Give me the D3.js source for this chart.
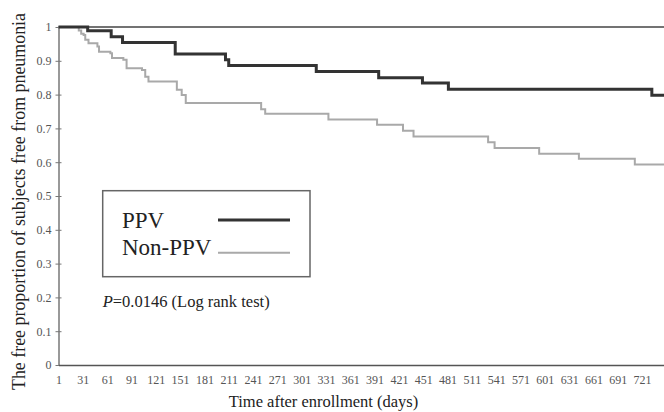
<!DOCTYPE html>
<html lang="en">
<head>
    <meta charset="UTF-8">
    <title>Pneumonia-free proportion</title>
    <script src="https://d3js.org/d3.v7.min.js" charset="utf-8"></script>
    <style>
        body { margin: 0; background: #fff; }
        svg text { font-family: "Liberation Serif", "Times New Roman", serif; }
        .tick text { fill: #555; font-size: 12px; }
    </style>
</head>
<body>
<script>
    // Kaplan-Meier steps (day of drop, proportion after drop)
    let ppvDays = [1, 37, 66, 80, 145, 207, 211, 319, 396, 450, 482, 733];
    let ppvSurv = [1, 0.989, 0.971, 0.954, 0.920, 0.903, 0.886, 0.868, 0.850, 0.834, 0.816, 0.798];
    let nonDays = [1, 26, 29, 32, 34, 38, 49, 51, 65, 67, 81, 85, 104, 108, 112, 147, 153, 158,
        251, 256, 334, 394, 426, 439, 531, 539, 594, 643, 712];
    let nonSurv = [1, 0.99, 0.98, 0.976, 0.962, 0.952, 0.942, 0.927, 0.922, 0.908, 0.903, 0.878,
        0.873, 0.853, 0.839, 0.814, 0.799, 0.775, 0.757, 0.743, 0.726, 0.711, 0.693, 0.676,
        0.659, 0.642, 0.625, 0.610, 0.593];
    let lastDay = 748;
    let xTicks = d3.range(1, 722, 30);
    let yTicks = [0, 0.1, 0.2, 0.3, 0.4, 0.5, 0.6, 0.7, 0.8, 0.9, 1];

    let svg = d3.select('body').append('svg').attr('width', 664).attr('height', 412);

    let x = d3.scaleLinear().domain([1, lastDay]).range([58.5, 664]);
    let y = d3.scaleLinear().domain([0, 1]).range([365, 27]);

    // top reference line at 1.0
    svg.append('line')
        .attr('x1', x(1)).attr('x2', x(lastDay))
        .attr('y1', y(1)).attr('y2', y(1))
        .attr('stroke', '#444').attr('stroke-width', 1.5);

    // y axis
    let yAxis = d3.axisLeft(y).tickValues(yTicks).tickSize(0).tickPadding(7)
        .tickFormat(d => d === 0 || d === 1 ? d3.format('d')(d) : d3.format('.1f')(d));
    let gy = svg.append('g').attr('transform', 'translate(' + x(1) + ',0)').call(yAxis);
    gy.select('.domain').attr('stroke', '#777').attr('stroke-width', 1.5);
    gy.selectAll('.tick').append('line')
        .attr('x1', -3).attr('x2', 3).attr('stroke', '#777');

    // x axis
    let xAxis = d3.axisBottom(x).tickValues(xTicks).tickSize(0).tickPadding(10)
        .tickFormat(d3.format('d'));
    let gx = svg.append('g').attr('transform', 'translate(0,' + y(0) + ')').call(xAxis);
    gx.select('.domain').attr('stroke', '#555').attr('stroke-width', 1.5);

    // survival curves
    let line = d3.line().curve(d3.curveStepAfter).x(d => x(d[0])).y(d => y(d[1]));
    let ppvPts = ppvDays.map((d, i) => [d, ppvSurv[i]]);
    ppvPts.push([lastDay, ppvSurv[ppvSurv.length - 1]]);
    let nonPts = nonDays.map((d, i) => [d, nonSurv[i]]);
    nonPts.push([lastDay, nonSurv[nonSurv.length - 1]]);

    svg.append('path').datum(nonPts).attr('d', line)
        .attr('fill', 'none').attr('stroke', '#a9a9a9').attr('stroke-width', 2);
    svg.append('path').datum(ppvPts).attr('d', line)
        .attr('fill', 'none').attr('stroke', '#333').attr('stroke-width', 3);

    // legend
    let lg = svg.append('g');
    lg.append('rect').attr('x', 102.7).attr('y', 190.7).attr('width', 207.3).attr('height', 86)
        .attr('fill', '#fff').attr('stroke', '#666').attr('stroke-width', 1.5);
    lg.append('text').attr('x', 122).attr('y', 228.3).attr('font-size', 23).attr('fill', '#222').text('PPV');
    lg.append('text').attr('x', 122).attr('y', 255).attr('font-size', 23).attr('fill', '#222').text('Non-PPV');
    lg.append('line').attr('x1', 218).attr('x2', 290).attr('y1', 220).attr('y2', 220)
        .attr('stroke', '#333').attr('stroke-width', 3);
    lg.append('line').attr('x1', 218).attr('x2', 290).attr('y1', 252.7).attr('y2', 252.7)
        .attr('stroke', '#a9a9a9').attr('stroke-width', 2);

    // p value
    let pt = svg.append('text').attr('x', 102.7).attr('y', 306.7).attr('font-size', 16.5).attr('fill', '#222');
    pt.append('tspan').attr('font-style', 'italic').text('P');
    pt.append('tspan').text('=0.0146 (Log rank test)');

    // axis titles
    svg.append('text').attr('x', 323.5).attr('y', 407).attr('text-anchor', 'middle')
        .attr('font-size', 16.5).attr('fill', '#222').text('Time after enrollment (days)');
    svg.append('text').attr('transform', 'translate(24.5,201.5) rotate(-90)').attr('text-anchor', 'middle')
        .attr('font-size', 17.9).attr('fill', '#222').text('The free proportion of subjects free from pneumonia');
</script>
</body>
</html>
